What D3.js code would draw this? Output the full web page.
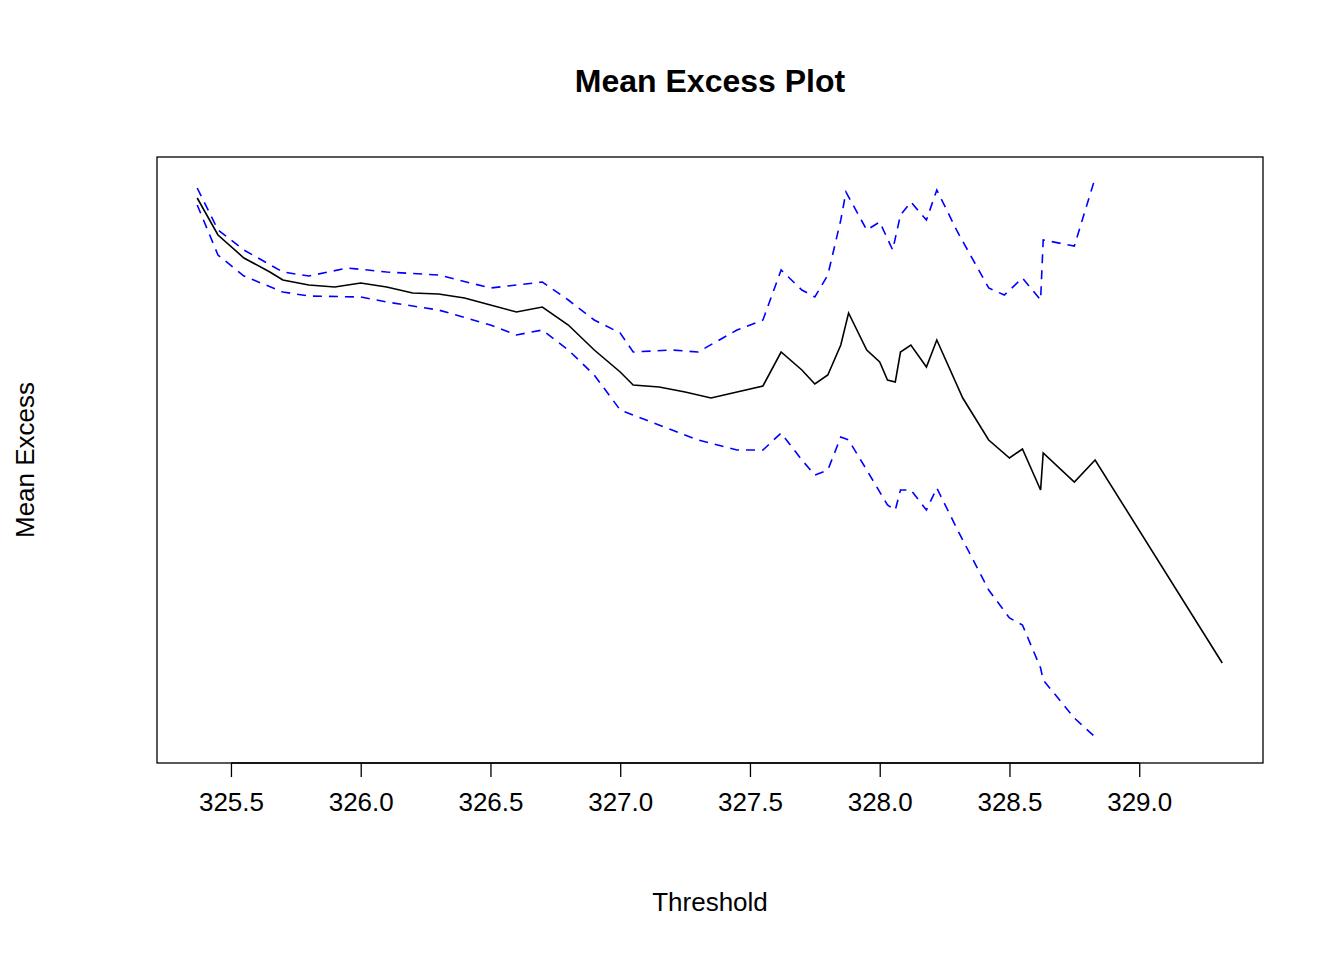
<!DOCTYPE html>
<html>
<head>
<meta charset="utf-8">
<script src="https://cdn.jsdelivr.net/npm/d3@7"></script>
<style>
  body { margin: 0; background: #fff; }
  text { font-family: "Liberation Sans", Arial, sans-serif; }
</style>
</head>
<body>
<script>
'use strict';

// Mean excess estimate
var meanX = [325.37,325.45,325.55,325.65,325.7,325.8,325.9,326.0,326.1,326.2,326.3,326.4,326.5,326.6,326.7,326.8,326.9,327.0,327.05,327.15,327.25,327.35,327.45,327.55,327.62,327.7,327.75,327.8,327.85,327.88,327.95,328.0,328.03,328.06,328.08,328.12,328.18,328.22,328.32,328.42,328.5,328.55,328.62,328.63,328.75,328.83,329.32];
var meanY = [5.65,5.28,5.05,4.91,4.83,4.78,4.76,4.80,4.76,4.70,4.69,4.65,4.58,4.51,4.56,4.38,4.13,3.91,3.78,3.76,3.71,3.65,3.71,3.77,4.11,3.93,3.79,3.88,4.18,4.50,4.13,4.01,3.83,3.81,4.11,4.18,3.96,4.23,3.65,3.23,3.05,3.14,2.73,3.10,2.81,3.03,1.00];

// upper confidence band
var upperX = [325.37,325.45,325.55,325.7,325.8,325.95,326.1,326.3,326.5,326.7,326.8,326.9,327.0,327.05,327.2,327.3,327.45,327.55,327.62,327.7,327.75,327.8,327.85,327.87,327.95,328.0,328.05,328.08,328.12,328.18,328.22,328.3,328.42,328.48,328.55,328.62,328.63,328.75,328.83];
var upperY = [5.75,5.33,5.13,4.91,4.87,4.95,4.91,4.88,4.75,4.81,4.63,4.43,4.30,4.11,4.13,4.11,4.33,4.43,4.93,4.73,4.66,4.88,5.43,5.71,5.33,5.41,5.13,5.48,5.61,5.43,5.73,5.31,4.75,4.68,4.85,4.63,5.23,5.17,5.85];

// lower confidence band
var lowerX = [325.37,325.45,325.55,325.7,325.8,326.0,326.1,326.3,326.5,326.6,326.7,326.8,326.9,327.0,327.1,327.2,327.3,327.45,327.55,327.62,327.7,327.75,327.8,327.85,327.88,327.95,328.03,328.06,328.08,328.12,328.18,328.22,328.3,328.42,328.5,328.55,328.62,328.63,328.75,328.83];
var lowerY = [5.58,5.08,4.87,4.71,4.67,4.66,4.61,4.53,4.38,4.28,4.33,4.13,3.88,3.53,3.43,3.33,3.23,3.13,3.13,3.30,3.03,2.88,2.93,3.26,3.23,2.93,2.58,2.53,2.73,2.73,2.53,2.75,2.33,1.73,1.45,1.38,0.95,0.83,0.45,0.26];

var xTicks = [325.5,326.0,326.5,327.0,327.5,328.0,328.5,329.0];

(function () {
  var width = 1344, height = 960;
  var plotLeft = 157, plotRight = 1263, plotTop = 157, plotBottom = 763;

  var svg = d3.select('body').append('svg')
    .attr('width', width)
    .attr('height', height);

  var x = d3.scaleLinear().domain([325.215, 329.477]).range([plotLeft, plotRight]);
  var y = d3.scaleLinear().domain([0, 6.06]).range([plotBottom, plotTop]);

  // box
  svg.append('rect')
    .attr('x', plotLeft).attr('y', plotTop)
    .attr('width', plotRight - plotLeft).attr('height', plotBottom - plotTop)
    .attr('fill', 'none').attr('stroke', '#000').attr('stroke-width', 1.3);

  // x axis
  var xAxis = svg.append('g')
    .attr('transform', 'translate(0,' + plotBottom + ')')
    .call(d3.axisBottom(x).tickValues(xTicks).tickFormat(d3.format('.1f')).tickSize(14).tickSizeOuter(0));
  xAxis.select('.domain').attr('d', 'M' + x(xTicks[0]) + ',0H' + x(xTicks[xTicks.length - 1]))
    .attr('stroke-width', 1.3);
  xAxis.selectAll('.tick line').attr('stroke-width', 1.3);
  xAxis.selectAll('.tick text')
    .attr('y', 48).attr('dy', 0)
    .style('font-size', '26px')
    .style('font-family', '"Liberation Sans", Arial, sans-serif');

  var line = d3.line()
    .x(function (d) { return x(d[0]); })
    .y(function (d) { return y(d[1]); });

  function pairs(xs, ys) {
    return xs.map(function (v, i) { return [v, ys[i]]; });
  }

  svg.append('path')
    .datum(pairs(upperX, upperY))
    .attr('d', line)
    .attr('fill', 'none').attr('stroke', '#0000ff').attr('stroke-width', 1.6)
    .attr('stroke-dasharray', '9,7');

  svg.append('path')
    .datum(pairs(lowerX, lowerY))
    .attr('d', line)
    .attr('fill', 'none').attr('stroke', '#0000ff').attr('stroke-width', 1.6)
    .attr('stroke-dasharray', '9,7');

  svg.append('path')
    .datum(pairs(meanX, meanY))
    .attr('d', line)
    .attr('fill', 'none').attr('stroke', '#000').attr('stroke-width', 1.6);

  // titles
  svg.append('text')
    .attr('x', (plotLeft + plotRight) / 2).attr('y', 92)
    .attr('text-anchor', 'middle')
    .style('font-size', '32px').style('font-weight', 'bold')
    .text('Mean Excess Plot');

  svg.append('text')
    .attr('x', (plotLeft + plotRight) / 2).attr('y', 911)
    .attr('text-anchor', 'middle')
    .style('font-size', '26px')
    .text('Threshold');

  svg.append('text')
    .attr('transform', 'translate(34,' + ((plotTop + plotBottom) / 2) + ') rotate(-90)')
    .attr('text-anchor', 'middle')
    .style('font-size', '26px')
    .text('Mean Excess');
})();
</script>
</body>
</html>
